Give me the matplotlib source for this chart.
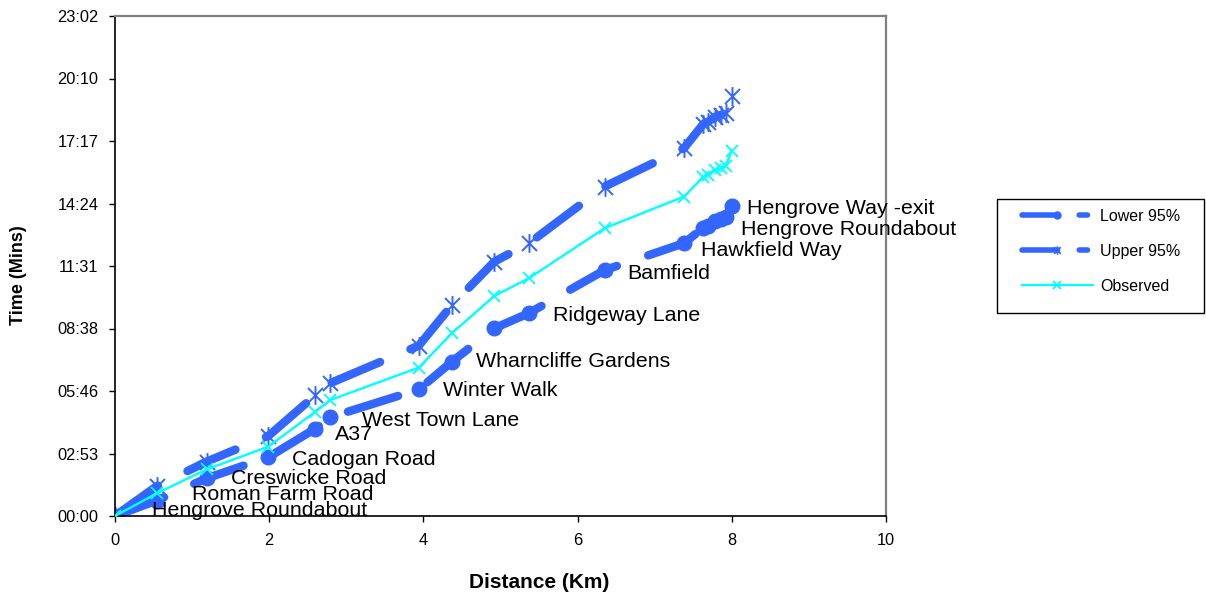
import matplotlib
matplotlib.use("Agg")
import matplotlib.pyplot as plt
from matplotlib.lines import Line2D
from matplotlib.path import Path
from matplotlib.patches import Rectangle
from matplotlib.legend_handler import HandlerLine2D
from matplotlib.ticker import FixedLocator, FuncFormatter
import numpy as np

plt.rcParams['font.family'] = ['Liberation Sans', 'DejaVu Sans']

# Cumulative distance along the route (km) and journey time (minutes)
distance_km = [0.0, 0.54, 1.19, 1.99, 2.60, 2.79, 3.94, 4.37, 4.92, 5.37,
               6.35, 7.38, 7.63, 7.69, 7.78, 7.86, 7.92, 8.00]
lower_min = [0.0, 0.71, 1.74, 2.71, 4.03, 4.55, 5.83, 7.11, 8.65, 9.35,
             11.33, 12.57, 13.28, 13.36, 13.59, 13.68, 13.78, 14.28]
observed_min = [0.0, 1.04, 2.15, 3.20, 4.81, 5.34, 6.84, 8.42, 10.14, 10.96,
                13.26, 14.72, 15.62, 15.71, 15.94, 16.04, 16.13, 16.82]
upper_min = [0.0, 1.37, 2.51, 3.69, 5.57, 6.12, 7.85, 9.72, 11.72, 12.57,
             15.18, 16.95, 18.06, 18.16, 18.39, 18.48, 18.58, 19.35]
stop_names = ["Hengrove Roundabout", "Roman Farm Road", "Creswicke Road",
              "Cadogan Road", "A37", "West Town Lane", "Winter Walk",
              "Wharncliffe Gardens", "", "Ridgeway Lane", "Bamfield",
              "Hawkfield Way", "", "", "Hengrove Roundabout", "", "",
              "Hengrove Way -exit"]
series_names = ["Lower 95%", "Upper 95%", "Observed"]

x_ticks = [0, 2, 4, 6, 8, 10]
y_step_min = 2.88          # 0.002 of a day
y_max_min = 23.04          # 0.016 of a day

# label placement next to each stop marker (pixels right, pixels up)
label_offsets = [(37, 6), (35, 6), (24, 0), (24, -2), (19, -6), (32, -3),
                 (24, -1), (24, 0), (0, 0), (24, -2), (23, -3), (17, -7),
                 (0, 0), (0, 0), (26, -8), (0, 0), (0, 0), (15, -2)]

BLUE = '#3366FF'
CYAN = '#00FFFF'
W, H = 1206, 601

# asterisk-like marker: a cross with a vertical stroke
star_marker = Path([(-1, -1), (1, 1), (-1, 1), (1, -1), (0, -1.25), (0, 1.25)],
                   [Path.MOVETO, Path.LINETO] * 3)

fig = plt.figure(figsize=(W / 100, H / 100), dpi=100)
ax = fig.add_axes([115 / W, 1 - 516 / H, 771 / W, 500 / H])

band_lw = 6.1
band_style = (0, (6.2, 3.9))
ax.plot(distance_km, lower_min, color=BLUE, lw=band_lw, linestyle=band_style,
        dash_capstyle='round', marker='o', ms=10.5, mfc=BLUE, mec=BLUE,
        zorder=2)
ax.plot(distance_km, upper_min, color=BLUE, lw=band_lw, linestyle=band_style,
        dash_capstyle='round', marker=star_marker, ms=13.5, mfc='none',
        mec=BLUE, mew=1.4, zorder=2)
ax.plot(distance_km, observed_min, color=CYAN, lw=1.7, marker='x', ms=9,
        mew=1.3, mec=CYAN, zorder=4)

for x, y, name, (dx, dy) in zip(distance_km, lower_min, stop_names,
                                label_offsets):
    if name:
        ax.annotate(name, (x, y), xytext=(dx, dy), textcoords='offset pixels',
                    ha='left', va='center', fontsize=15.4, color='black',
                    zorder=5, annotation_clip=False)

ax.set_xlim(0, 10)
ax.set_ylim(0, y_max_min)
ax.xaxis.set_major_locator(FixedLocator(x_ticks))
ax.yaxis.set_major_locator(FixedLocator(np.arange(0, y_max_min + 0.01, y_step_min)))


def mmss(v, pos=None):
    s = int(round(v * 60))
    return f"{s // 60:02d}:{s % 60:02d}"


ax.yaxis.set_major_formatter(FuncFormatter(mmss))
ax.tick_params(axis='both', direction='out', length=4, width=1,
               labelsize=11.8, color='black')
ax.tick_params(axis='y', pad=8)
ax.tick_params(axis='x', pad=8)

for side in ('left', 'bottom'):
    ax.spines[side].set_color('black')
    ax.spines[side].set_linewidth(1.2)
for side in ('top', 'right'):
    ax.spines[side].set_color('#808080')
    ax.spines[side].set_linewidth(1.6)

ax.set_xlabel('Distance (Km)', fontsize=15, fontweight='bold')
ax.set_ylabel('Time (Mins)', fontsize=13, fontweight='bold')
ax.xaxis.set_label_coords((539.5 - 115) / 771, (516 - 582) / 500)
ax.xaxis.label.set_va('center')
ax.yaxis.set_label_coords((19 - 115) / 771, (516 - 275) / 500)
ax.yaxis.label.set_va('center')

handles = [
    Line2D([], [], color=BLUE, lw=4, linestyle=(0, (6.4, 3.9, 1.5, 20)),
           dash_capstyle='round', marker='o', ms=5, mfc=BLUE, mec=BLUE),
    Line2D([], [], color=BLUE, lw=4, linestyle=(0, (6.4, 3.9, 1.5, 20)),
           dash_capstyle='round', marker=star_marker, ms=6, mfc='none',
           mec=BLUE, mew=1.2),
    Line2D([], [], color=CYAN, lw=1.6, marker='x', ms=6, mew=1.3, mec=CYAN),
]
leg = fig.legend(handles, series_names, loc='upper left',
                 bbox_to_anchor=(997 / W, 1 - 199 / H),
                 bbox_transform=fig.transFigure, frameon=False,
                 borderpad=0.6, borderaxespad=0, handlelength=5.4,
                 handletextpad=0.44, labelspacing=1.25, fontsize=11.5,
                 numpoints=1,
                 handler_map={Line2D: HandlerLine2D(xpad=0.97, numpoints=1)})

# legend frame, extending to the right-hand margin
fig.add_artist(Rectangle((997 / W, 1 - 313 / H), (1204 - 997) / W, 114 / H,
                         transform=fig.transFigure, facecolor='white',
                         edgecolor='black', linewidth=1.0, zorder=-1))

fig.savefig('out.png', dpi=100)
